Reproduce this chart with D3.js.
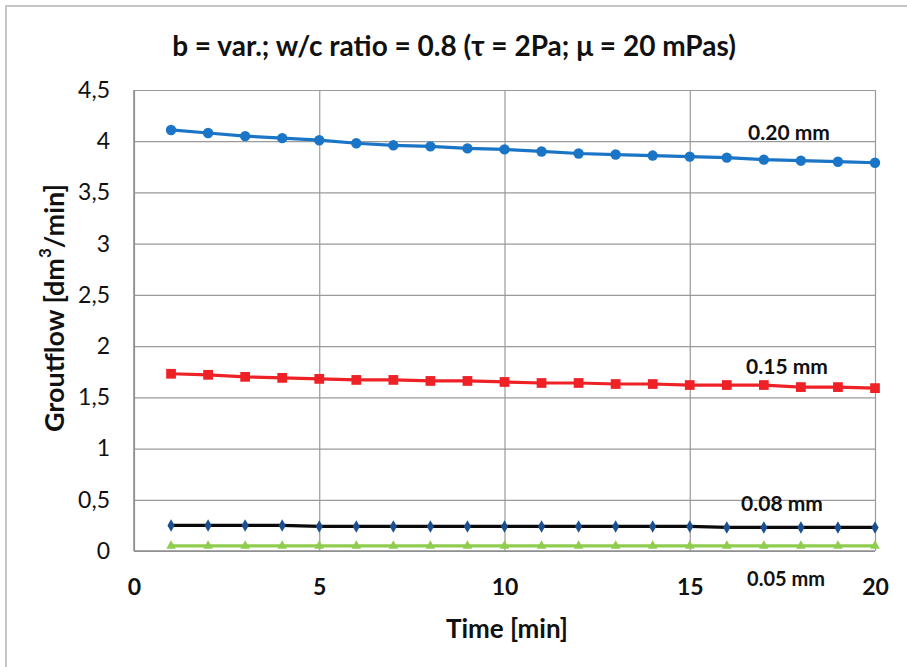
<!DOCTYPE html>
<html>
<head>
<meta charset="utf-8">
<script src="https://cdn.jsdelivr.net/npm/d3@7"></script>
<style>
  html, body { margin: 0; padding: 0; background: #fff; }
  svg { display: block; font-family: Lato, "Open Sans", sans-serif; }
</style>
</head>
<body>
<svg id="chart" width="907" height="667"></svg>
<script>
// Elapsed time [min]
const minutes = [1,2,3,4,5,6,7,8,9,10,11,12,13,14,15,16,17,18,19,20];

// Groutflow [dm³/min] per gap width b
const flow020 = [4.11,4.08,4.05,4.03,4.01,3.98,3.96,3.95,3.93,3.92,3.90,3.88,3.87,3.86,3.85,3.84,3.82,3.81,3.80,3.79];
const flow015 = [1.73,1.72,1.70,1.69,1.68,1.67,1.67,1.66,1.66,1.65,1.64,1.64,1.63,1.63,1.62,1.62,1.62,1.60,1.60,1.59];
const flow008 = [0.25,0.25,0.25,0.25,0.24,0.24,0.24,0.24,0.24,0.24,0.24,0.24,0.24,0.24,0.24,0.23,0.23,0.23,0.23,0.23];
const flow005 = [0.05,0.05,0.05,0.05,0.05,0.05,0.05,0.05,0.05,0.05,0.05,0.05,0.05,0.05,0.05,0.05,0.05,0.05,0.05,0.05];

const seriesNames = ["0.20 mm", "0.15 mm", "0.08 mm", "0.05 mm"];
const xTicks = [0, 5, 10, 15, 20];
const yTicks = [0, 0.5, 1, 1.5, 2, 2.5, 3, 3.5, 4, 4.5];

const titleText = "b = var.; w/c ratio = 0.8 (τ = 2Pa; μ = 20 mPas)";
const xTitle = "Time [min]";

const series = [
  { name: seriesNames[0], values: flow020, line: "#1a75c7", marker: "#1a75c7", shape: d3.symbolCircle, size: 85, lx: 789, ly: 131, fs: 21 },
  { name: seriesNames[1], values: flow015, line: "#ee2226", marker: "#ee2226", shape: d3.symbolSquare, size: 95, lx: 787, ly: 365, fs: 21 },
  { name: seriesNames[2], values: flow008, line: "#0a0a0a", marker: "#1c4f8f", shape: d3.symbolDiamond, size: 45, lx: 782, ly: 502, fs: 21 },
  { name: seriesNames[3], values: flow005, line: "#8fcd4f", marker: "#8fcd4f", shape: d3.symbolTriangle, size: 40, lx: 786, ly: 578, fs: 20 }
];

const svg = d3.select("#chart");

// outer chart frame
svg.append("rect")
  .attr("x", 6).attr("y", 6).attr("width", 920).attr("height", 700)
  .attr("fill", "none").attr("stroke", "#c6c6c6").attr("stroke-width", 2);

const x = d3.scaleLinear().domain([0, 20]).range([134, 875]);
const y = d3.scaleLinear().domain([0, 4.5]).range([551, 90]);

const fmt = v => String(v).replace(".", ",");

// horizontal gridlines + y ticks
svg.append("g")
  .attr("transform", `translate(${x(0)},0)`)
  .call(d3.axisLeft(y).tickValues(yTicks).tickSize(-(x(20) - x(0))).tickFormat(fmt).tickPadding(24))
  .call(g => g.select(".domain").remove())
  .call(g => g.selectAll(".tick line").attr("stroke", "#9a9a9a").attr("stroke-width", 1.2))
  .call(g => g.selectAll(".tick text").attr("font-size", 23).attr("fill", "#111").attr("font-family", "Lato, sans-serif"));

// vertical gridlines + x ticks
svg.append("g")
  .attr("transform", `translate(0,${y(0)})`)
  .call(d3.axisBottom(x).tickValues(xTicks).tickSize(-(y(0) - y(4.5))).tickFormat(d3.format("d")).tickPadding(28))
  .call(g => g.select(".domain").remove())
  .call(g => g.selectAll(".tick line").attr("stroke", "#9a9a9a").attr("stroke-width", 1.2))
  .call(g => g.selectAll(".tick text").attr("font-size", 23).attr("font-weight", "bold").attr("fill", "#111").attr("font-family", "Lato, sans-serif"));

// axis baseline and left edge
svg.append("line").attr("x1", x(0)).attr("x2", x(20)).attr("y1", y(0)).attr("y2", y(0))
  .attr("stroke", "#8c8c8c").attr("stroke-width", 1.5);
svg.append("line").attr("x1", x(0)).attr("x2", x(0)).attr("y1", y(0)).attr("y2", y(4.5))
  .attr("stroke", "#8c8c8c").attr("stroke-width", 1.5);

const line = d3.line().x((d, i) => x(minutes[i])).y(d => y(d));

series.forEach(s => {
  const g = svg.append("g");
  g.append("path").datum(s.values)
    .attr("d", line).attr("fill", "none")
    .attr("stroke", s.line).attr("stroke-width", 3.2);
  g.selectAll("path.m").data(s.values).join("path")
    .attr("class", "m")
    .attr("transform", (d, i) => `translate(${x(minutes[i])},${y(d)})`)
    .attr("d", d3.symbol().type(s.shape).size(s.size))
    .attr("fill", s.marker);
  svg.append("text")
    .attr("x", s.lx).attr("y", s.ly)
    .attr("text-anchor", "middle").attr("dominant-baseline", "central")
    .attr("font-size", s.fs).attr("font-weight", "bold").attr("fill", "#111")
    .text(s.name);
});

// titles
svg.append("text")
  .attr("x", 454).attr("y", 45)
  .attr("text-anchor", "middle").attr("dominant-baseline", "central")
  .attr("font-size", 28).attr("font-weight", "bold").attr("fill", "#111")
  .text(titleText);

svg.append("text")
  .attr("x", 507).attr("y", 628)
  .attr("text-anchor", "middle").attr("dominant-baseline", "central")
  .attr("font-size", 26).attr("font-weight", "bold").attr("fill", "#111")
  .text(xTitle);

const yTitle = svg.append("text")
  .attr("transform", "translate(53,308) rotate(-90)")
  .attr("text-anchor", "middle").attr("dominant-baseline", "central")
  .attr("font-size", 27).attr("font-weight", "bold").attr("fill", "#111");
yTitle.append("tspan").text("Groutflow [dm");
yTitle.append("tspan").attr("font-size", 17).attr("dy", -9).text("3");
yTitle.append("tspan").attr("dy", 9).text("/min]");
</script>
</body>
</html>
